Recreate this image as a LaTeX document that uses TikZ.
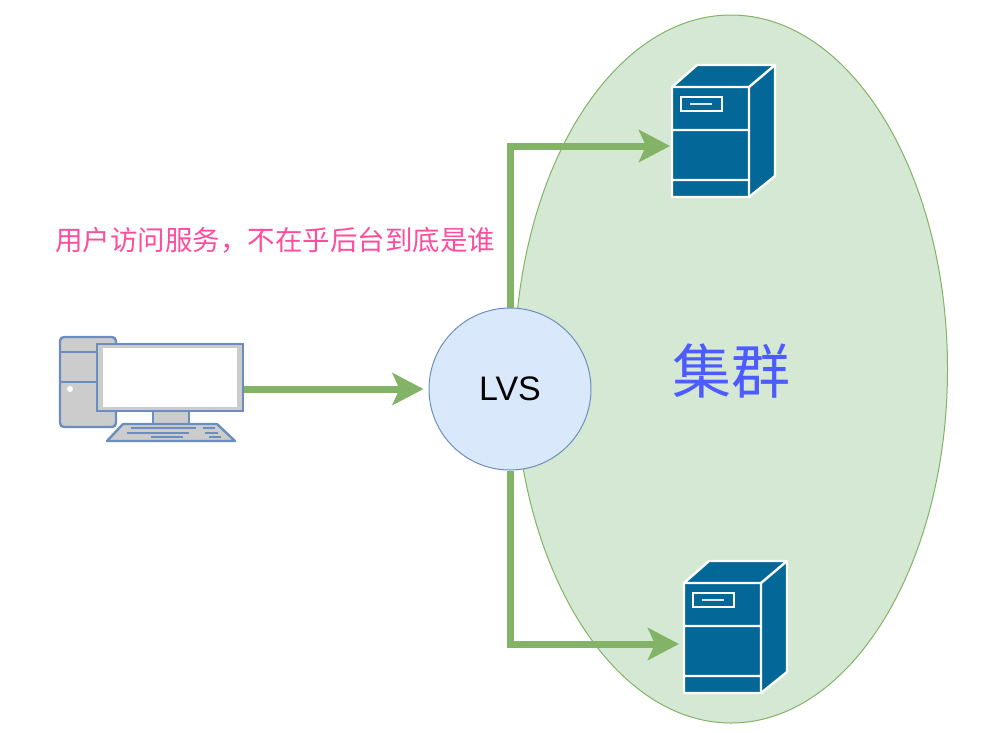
\documentclass[tikz,border=0pt]{standalone}
\usepackage{fontspec}
\setmainfont{Liberation Sans}
\newfontfamily\cjk{Noto Sans CJK SC}
\usetikzlibrary{shapes.geometric,arrows.meta}
\definecolor{linkgreen}{HTML}{82B366}
\definecolor{poolgreen}{HTML}{D5E8D4}
\definecolor{lvsblue}{HTML}{DAE8FC}
\definecolor{edgeblue}{HTML}{6C8EBF}
\definecolor{serverblue}{HTML}{036897}
\definecolor{notepink}{HTML}{FF4D9E}
\definecolor{poolink}{HTML}{4D5CFF}
\tikzset{
  link/.style={draw=linkgreen,line width=7pt,-{Stealth[length=31pt,width=32pt,inset=7pt]}},
  pics/serverbox/.style={code={
    \draw[fill=serverblue,draw=white,line width=2.4pt,line join=round]
      (0,0) -- (25,-22) -- (103,-22) -- (103,89) -- (77,110) -- (0,110) -- cycle;
    \draw[white,line width=2.4pt] (0,0) -- (77,0) -- (103,-22) (77,0) -- (77,110)
      (0,43) -- (77,43) (0,93) -- (77,93);
    \draw[white,line width=1.8pt] (9,10) rectangle (50,24);
    \draw[white!85!serverblue,line width=2pt] (18,17) -- (40,17);
    \coordinate (-w) at (-2,59);
  }},
  pics/pcbox/.style={code={
    \draw[fill=black!20,draw=edgeblue,line width=2.4pt,rounded corners=4pt] (0,0) rectangle (56,90);
    \draw[edgeblue,line width=2.4pt] (0,15) -- (37,15) (0,45) -- (37,45);
    \fill[white] (10,52) circle (3);
    \draw[fill=black!20,draw=edgeblue,line width=2.4pt] (93,74) rectangle (129,87);
    \draw[fill=black!20,draw=edgeblue,line width=2.4pt] (37,7) rectangle (183,74);
    \fill[white] (43,11) rectangle (177,70);
    \draw[fill=black!20,draw=edgeblue,line width=2.4pt,line join=round]
      (63,87) -- (157,87) -- (175,104) -- (47,104) -- cycle;
    \draw[edgeblue,line width=2pt]
      (71,91) -- (136,91) (143,91) -- (155,91)
      (67,96) -- (129,96) (145,96) -- (158,96)
      (91,100) -- (123,100) (149,100) -- (161,100);
    \coordinate (-e) at (184,52);
  }}
}
\begin{document}
\begin{tikzpicture}[x=1pt,y=-1pt]
  \useasboundingbox (0,0) rectangle (984,732);
  \node[ellipse,draw=linkgreen,fill=poolgreen,line width=1pt,inner sep=0pt,minimum width=433pt,minimum height=708pt] (pool) at (731,369) {};
  \node[text=poolink,font=\cjk\fontsize{59}{59}\selectfont,inner sep=0pt] (poolname) at (731,371) {集群};
  \node[text=notepink,font=\cjk\fontsize{27.5}{27.5}\selectfont,inner sep=0pt] (note) at (275,240) {用户访问服务，不在乎后台到底是谁};
  \pic (srvtop) at (672,87) {serverbox};
  \pic (srvbot) at (684,583) {serverbox};
  \pic (pc) at (60,337) {pcbox};
  \node[circle,draw=edgeblue,fill=lvsblue,line width=1pt,inner sep=0pt,minimum size=162pt,font=\fontsize{34}{34}\selectfont] (lvs) at (510,389) {LVS};
  \draw[link,shorten >=5pt] (pc-e) -- (lvs.west);
  \draw[link] (lvs.north) |- (srvtop-w);
  \draw[link,shorten >=3pt] (lvs.south) |- ([yshift=-2pt]srvbot-w);
\end{tikzpicture}
\end{document}
